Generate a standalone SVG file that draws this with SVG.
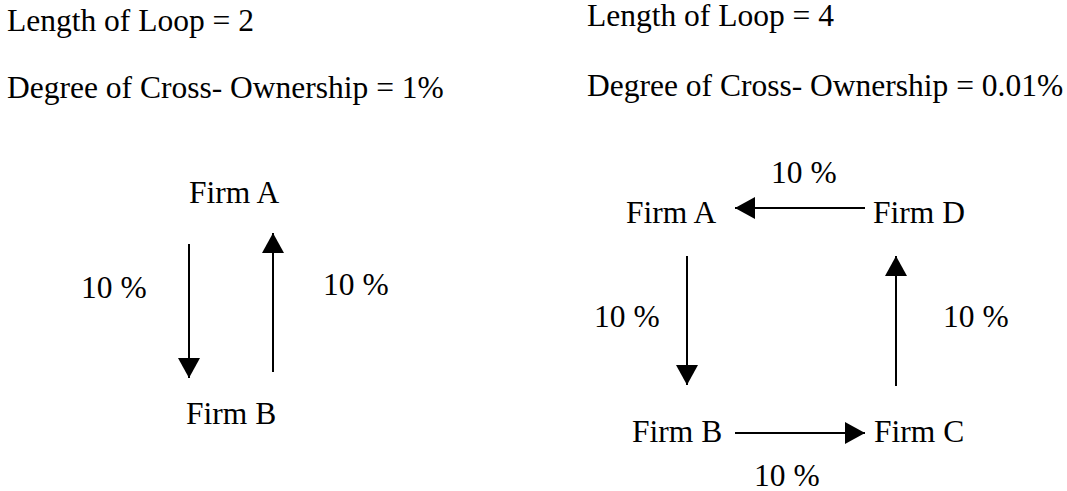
<svg xmlns="http://www.w3.org/2000/svg" width="1067" height="491" viewBox="0 0 1067 491">
<style>
text{font-family:"Liberation Serif","Times New Roman",serif;font-size:31.5px;fill:#000}
.c line{stroke:#000;stroke-width:2}
</style>
<defs>
<marker id="ah" viewBox="0 0 20 22" refX="20" refY="11" markerWidth="20" markerHeight="22" markerUnits="userSpaceOnUse" orient="auto">
<path d="M0,0 L20,11 L0,22 Z" fill="#000"/>
</marker>
</defs>
<rect width="1067" height="491" fill="#fff"/>
<g id="titles">
<text x="7" y="31">Length of Loop = 2</text>
<text x="7" y="98">Degree of Cross- Ownership = 1%</text>
<text x="587" y="26">Length of Loop = 4</text>
<text x="587" y="96">Degree of Cross- Ownership = 0.01%</text>
</g>
<g id="left-firmA"><text x="189" y="203">Firm A</text></g>
<g id="left-firmB"><text x="186" y="424">Firm B</text></g>
<g id="right-firmA"><text x="626" y="223">Firm A</text></g>
<g id="right-firmD"><text x="873" y="223">Firm D</text></g>
<g id="right-firmB"><text x="632" y="442">Firm B</text></g>
<g id="right-firmC"><text x="874" y="442">Firm C</text></g>
<g id="connectors" class="c">
<line x1="189" y1="244" x2="189" y2="378" marker-end="url(#ah)"/>
<line x1="273" y1="372" x2="273" y2="233" marker-end="url(#ah)"/>
<line x1="865" y1="208" x2="735" y2="208" marker-end="url(#ah)"/>
<line x1="687" y1="256" x2="687" y2="385" marker-end="url(#ah)"/>
<line x1="735" y1="433" x2="865" y2="433" marker-end="url(#ah)"/>
<line x1="896" y1="386" x2="896" y2="256" marker-end="url(#ah)"/>
</g>
<g id="labels">
<text x="81" y="298">10 %</text>
<text x="323" y="295">10 %</text>
<text x="771" y="183">10 %</text>
<text x="594" y="327">10 %</text>
<text x="943" y="327">10 %</text>
<text x="754" y="486">10 %</text>
</g>
</svg>
